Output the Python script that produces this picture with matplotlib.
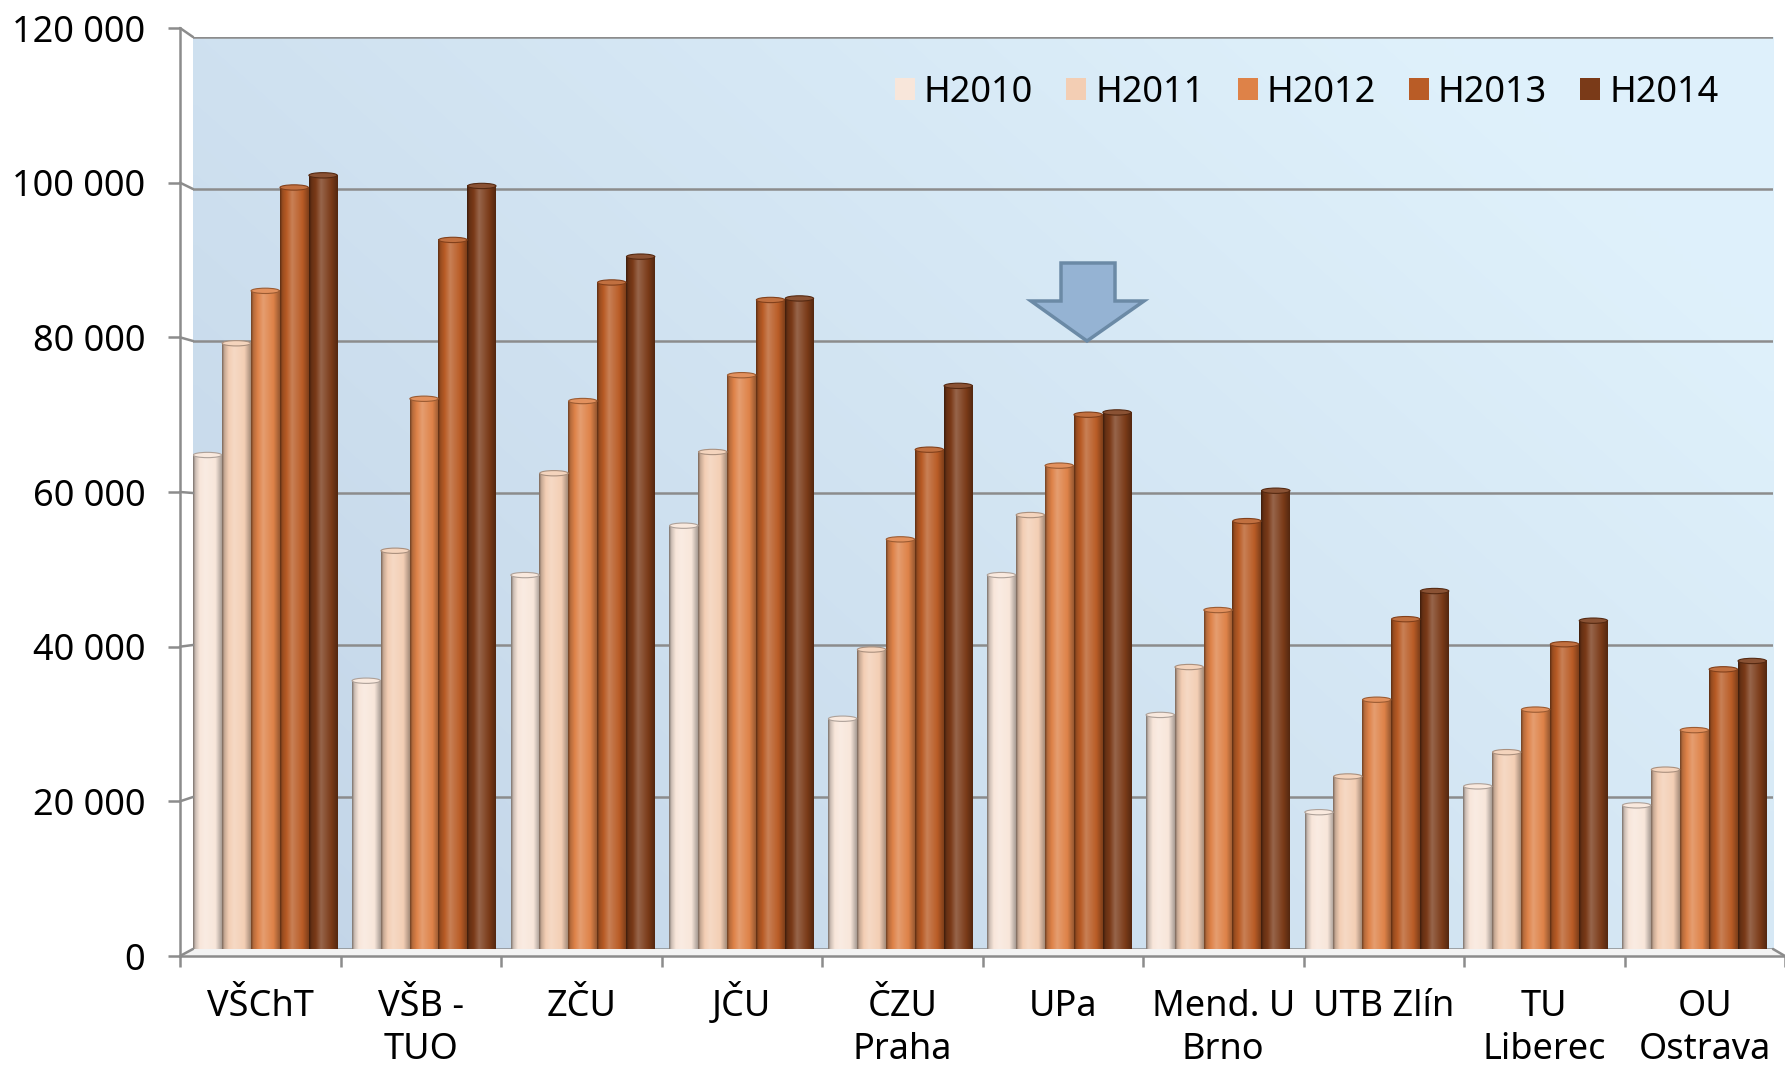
import numpy as np
import matplotlib
matplotlib.use("Agg")
import matplotlib.pyplot as plt
from matplotlib.patches import Ellipse, Polygon, ConnectionPatch
from matplotlib.colors import to_rgb
from matplotlib.transforms import IdentityTransform, Affine2D
from matplotlib.ticker import FuncFormatter

# ---------------- data ----------------
categories = ["VŠChT", "VŠB -\nTUO", "ZČU", "JČU", "ČZU\nPraha", "UPa",
              "Mend. U\nBrno", "UTB Zlín", "TU\nLiberec", "OU\nOstrava"]
series_names = ["H2010", "H2011", "H2012", "H2013", "H2014"]
h2010 = [65000, 35300, 49200, 55700, 30300, 49200, 30800, 18000, 21400, 18900]
h2011 = [79700, 52400, 62600, 65400, 39400, 57100, 37100, 22700, 25900, 23600]
h2012 = [86600, 72400, 72100, 75500, 53900, 63600, 44600, 32800, 31500, 28800]
h2013 = [100200, 93300, 87700, 85400, 65700, 70300, 56300, 43400, 40100, 36800]
h2014 = [101800, 100400, 91100, 85600, 74100, 70600, 60300, 47100, 43200, 37900]
series_values = [h2010, h2011, h2012, h2013, h2014]
series_colors = ["#f8e6da", "#f3ceb4", "#de8248", "#b95c26", "#7a3a18"]
y_ticks = [0, 20000, 40000, 60000, 80000, 100000, 120000]

W, H = 1785, 1066
FS = 26
GRID = "#8c8c8c"
plt.rcParams["font.family"] = ["Noto Sans", "DejaVu Sans"]

fig = plt.figure(figsize=(W / 100, H / 100), dpi=100)
fig.patch.set_facecolor("white")


def rect(x0, x1, y_top, y_bot):
    return [x0 / W, 1 - y_bot / H, (x1 - x0) / W, (y_bot - y_top) / H]


# back wall axes (bars live here)
back = fig.add_axes(rect(193, 1773, 37, 949))
back.set_facecolor("none")
for s in back.spines.values():
    s.set_visible(False)

# wall gradient
nx, ny = 200, 120
gx = np.linspace(0, 1, nx)[None, :]
gy = np.linspace(0, 1, ny)[:, None]
g = np.clip(0.7 * gx + 0.45 * gy, 0, 1) / 1.15
c0 = np.array(to_rgb("#c2d4e7"))
c1 = np.array(to_rgb("#e3f5fe"))
wall = c0 + (c1 - c0) * g[..., None]
back.imshow(wall, extent=(0, 1, 0, 1), transform=back.transAxes,
            aspect="auto", origin="lower", zorder=0, interpolation="bilinear")

back.set_axisbelow(True)
back.yaxis.grid(True, color=GRID, lw=1.8)
back.set_yticks(y_ticks)
back.tick_params(left=False, bottom=False, labelleft=False, labelbottom=False)


def shade(c, n=96):
    c = np.array(to_rgb(c))
    t = np.linspace(0, 1, n)
    f = np.interp(t, [0, 0.08, 0.42, 0.78, 1.0], [-0.5, -0.18, 0.22, 0.0, -0.32])
    f = f[:, None]
    out = np.where(f >= 0, c + (1 - c) * f, c * (1 + f))
    return out[None, :, :]


bw = 0.182
x = np.arange(len(categories))
handles = []
for j, (name, vals, col) in enumerate(zip(series_names, series_values, series_colors)):
    bars = back.bar(x + j * bw, vals, width=bw, align="edge", color=col,
                    label=name, zorder=3)
    handles.append(bars)
    img = shade(col)
    cc = np.array(to_rgb(col))
    for b in bars:
        x0, w, hgt = b.get_x(), b.get_width(), b.get_height()
        back.imshow(img, extent=(x0, x0 + w, 0, hgt), aspect="auto",
                    zorder=3.5, interpolation="bilinear")
        cap = Ellipse((x0 + w / 2, hgt), w * 0.98, 700,
                      facecolor=tuple(cc + (1 - cc) * 0.12),
                      edgecolor=tuple(cc * 0.7), lw=0.8, zorder=4)
        back.add_patch(cap)

back.set_xlim(0, 9.95)
back.set_ylim(0, 120000)

# legend
leg = back.legend(handles=handles, labels=series_names, ncol=5, frameon=False,
                  loc="center left", bbox_to_anchor=(895 / W, 1 - 93 / H),
                  bbox_transform=fig.transFigure, fontsize=FS, borderpad=0,
                  handlelength=0.55, handleheight=0.55, handletextpad=0.25,
                  columnspacing=0.92, borderaxespad=0)
for hnd, col in zip(leg.legend_handles, series_colors):
    hnd.set_facecolor(col)

# front axes (axis lines, ticks, labels)
front = fig.add_axes(rect(180, 1785, 28, 956))
front.patch.set_visible(False)
front.set_xlim(0, 10)
front.set_ylim(0, 120000)
for side in ["top", "right"]:
    front.spines[side].set_visible(False)
for side in ["left", "bottom"]:
    front.spines[side].set_color(GRID)
    front.spines[side].set_linewidth(1.8)
front.set_yticks(y_ticks)
front.yaxis.set_major_formatter(FuncFormatter(lambda v, p: f"{int(v):,}".replace(",", " ")))
front.tick_params(axis="y", length=9, width=1.8, color=GRID, pad=16, labelsize=FS)
front.set_xticks(np.arange(len(categories) + 1))
front.set_xticklabels([])
front.tick_params(axis="x", which="major", length=8, width=1.8, color=GRID, direction="out")
front.set_xticks(np.arange(len(categories)) + 0.5, minor=True)
front.set_xticklabels(categories, minor=True, fontsize=FS, linespacing=1.25)
front.tick_params(axis="x", which="minor", length=0, pad=24)

# align first-line baselines of the category labels (top alignment otherwise
# depends on descenders such as the one of "J")
renderer = fig.canvas.get_renderer()
labels = front.get_xticklabels(minor=True)
prop = labels[0].get_fontproperties()
_, lp_h, lp_d = renderer.get_text_width_height_descent("lp", prop, ismath=False)


def first_line_ascent(txt):
    _, h_, d_ = renderer.get_text_width_height_descent(txt.split("\n")[0], prop, ismath=False)
    return max(h_, lp_h) - max(d_, lp_d)


ref_asc = first_line_ascent("ZČU")
for lbl in labels:
    delta = first_line_ascent(lbl.get_text()) - ref_asc
    if abs(delta) > 0.01:
        lbl.set_transform(lbl.get_transform() + Affine2D().translate(0, delta))

# connectors between front axis ticks and back wall gridlines
for v in y_ticks:
    cp = ConnectionPatch(xyA=(0, v), coordsA=front.transData,
                         xyB=(0, v), coordsB=back.transData,
                         color=GRID, lw=1.8)
    fig.add_artist(cp)

# floor
pts = [back.transData.transform((0, 0)), back.transData.transform((9.95, 0)),
       front.transData.transform((10, 0)), front.transData.transform((0, 0))]
floor = Polygon(pts, closed=True, transform=IdentityTransform(),
                facecolor="#f3f3f3", edgecolor="none", zorder=-1)
fig.add_artist(floor)
cp = ConnectionPatch(xyA=(9.95, 0), coordsA=back.transData,
                     xyB=(10, 0), coordsB=front.transData, color=GRID, lw=1.8)
fig.add_artist(cp)

# annotation arrow
arrow_px = [(1061, 263), (1115, 263), (1115, 301), (1144, 301), (1087, 341),
            (1031, 301), (1061, 301)]
arrow = Polygon([(px / W, 1 - py / H) for px, py in arrow_px], closed=True,
                transform=fig.transFigure, facecolor="#95b3d3", edgecolor="#6b8aa6",
                lw=2.5, joinstyle="miter", zorder=5)
fig.add_artist(arrow)

fig.savefig("out.png", dpi=100)
